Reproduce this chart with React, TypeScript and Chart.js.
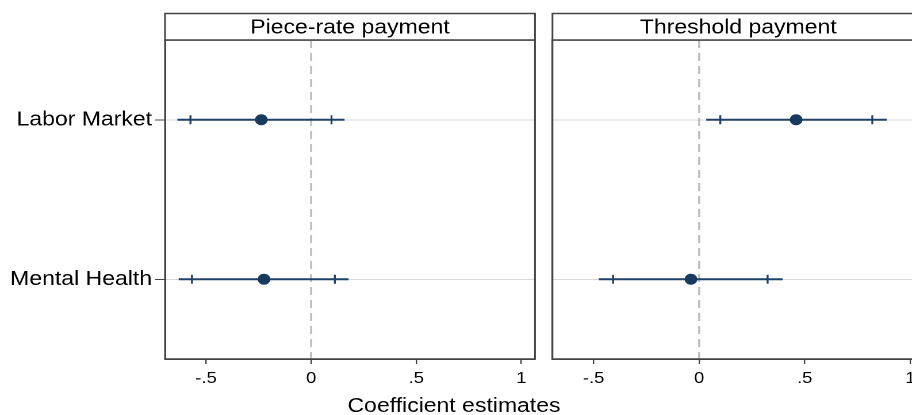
import React, { useEffect, useRef } from "react";
import { Chart, registerables } from "chart.js";

Chart.register(...registerables);

// ---- data ----
const categories = ["Labor Market", "Mental Health"];
const xTicks = [-0.5, 0, 0.5, 1];
const xTickLabels = ["-.5", "0", ".5", "1"];

const panelTitles = ["Piece-rate payment", "Threshold payment"];

const pieceEst = [-0.237, -0.224];
const pieceLo95 = [-0.636, -0.630];
const pieceHi95 = [0.159, 0.178];
const pieceLo90 = [-0.574, -0.567];
const pieceHi90 = [0.097, 0.113];

const threshEst = [0.459, -0.039];
const threshLo95 = [0.033, -0.476];
const threshHi95 = [0.888, 0.395];
const threshLo90 = [0.100, -0.408];
const threshHi90 = [0.820, 0.324];

const xAxisTitle = "Coefficient estimates";

// ---- style ----
const STRETCH = 1.15;
const FONT = "'Liberation Sans', Arial, Helvetica, sans-serif";
const LINE = "#1f4068";
const DOT = "#173a5e";
const FRAME = "#444444";

const framePlugin = {
  id: "frameHeader",
  afterDraw(chart: any) {
    const { ctx, chartArea } = chart;
    const title = chart.options.plugins.frameHeader?.title ?? "";
    const { left, right, top, bottom } = chartArea;
    ctx.save();
    ctx.strokeStyle = FRAME;
    ctx.lineWidth = 1.5;
    ctx.strokeRect(left, top, right - left, bottom - top);
    const hTop = 13.5;
    ctx.fillStyle = "#ffffff";
    ctx.fillRect(left, hTop, right - left, top - hTop);
    ctx.strokeRect(left, hTop, right - left, top - hTop);
    ctx.fillStyle = "#000";
    ctx.font = `20px ${FONT}`;
    ctx.textAlign = "center";
    ctx.textBaseline = "middle";
    ctx.fillText(title, (left + right) / 2, (hTop + top) / 2 + 1);
    ctx.restore();
  },
};

function buildConfig(
  title: string,
  est: number[],
  lo95: number[],
  hi95: number[],
  lo90: number[],
  hi90: number[],
  showLabels: boolean,
  yWidth: number,
  padRight: number
) {
  const datasets: any[] = [];
  datasets.push({
    data: [
      { x: 0, y: 0.5 },
      { x: 0, y: 2.5 },
    ],
    showLine: true,
    borderColor: "#bdbdbd",
    borderWidth: 1.8,
    borderDash: [8, 5],
    pointRadius: 0,
    order: 5,
  });
  categories.forEach((_, i) => {
    datasets.push({
      data: [
        { x: lo95[i], y: i + 1 },
        { x: hi95[i], y: i + 1 },
      ],
      showLine: true,
      borderColor: LINE,
      borderWidth: 2,
      pointRadius: 0,
      order: 3,
    });
  });
  datasets.push({
    data: categories.flatMap((_, i) => [
      { x: lo90[i], y: i + 1 },
      { x: hi90[i], y: i + 1 },
    ]),
    pointStyle: "line",
    rotation: 90,
    pointRadius: 4.5,
    borderColor: LINE,
    borderWidth: 1.7,
    order: 2,
  });
  datasets.push({
    data: categories.map((_, i) => ({ x: est[i], y: i + 1 })),
    pointRadius: 5.5,
    backgroundColor: DOT,
    borderColor: DOT,
    borderWidth: 0,
    order: 1,
  });

  return {
    type: "scatter",
    data: { datasets },
    plugins: [framePlugin],
    options: {
      animation: false,
      responsive: false,
      devicePixelRatio: 2,
      layout: { padding: { top: 40, right: padRight, left: 0, bottom: 0 } },
      plugins: {
        legend: { display: false },
        tooltip: { enabled: false },
        frameHeader: { title },
      },
      scales: {
        x: {
          type: "linear",
          min: -0.695,
          max: 1.065,
          afterBuildTicks: (s: any) => {
            s.ticks = xTicks.map((v) => ({ value: v }));
          },
          afterFit: (s: any) => {
            s.height = 56;
          },
          ticks: {
            callback: (v: any) => {
              const k = xTicks.findIndex((t) => Math.abs(t - v) < 1e-9);
              return k >= 0 ? xTickLabels[k] : "";
            },
            font: { family: FONT, size: 16 },
            color: "#000",
            padding: 5,
            maxRotation: 0,
            autoSkip: false,
          },
          grid: {
            drawOnChartArea: false,
            drawTicks: true,
            tickLength: 5,
            tickColor: FRAME,
            lineWidth: 1.2,
          },
          border: { display: true, color: FRAME, width: 1.5 },
        },
        y: {
          type: "linear",
          reverse: true,
          min: 0.5,
          max: 2.5,
          afterBuildTicks: (s: any) => {
            s.ticks = categories.map((_, i) => ({ value: i + 1 }));
          },
          afterFit: (s: any) => {
            s.width = yWidth;
          },
          ticks: {
            display: showLabels,
            callback: (v: any) => categories[Math.round(v) - 1] ?? "",
            font: { family: FONT, size: 20 },
            color: "#000",
            padding: 2.6,
            autoSkip: false,
          },
          grid: {
            color: "#d9d9d9",
            lineWidth: 1,
            drawTicks: showLabels,
            tickLength: 8.7,
            tickColor: FRAME,
          },
          border: { display: true, color: FRAME, width: 1.5 },
        },
      },
    },
  } as any;
}

export default function App() {
  const leftRef = useRef<HTMLCanvasElement>(null);
  const rightRef = useRef<HTMLCanvasElement>(null);

  useEffect(() => {
    const c1 = new Chart(
      leftRef.current as HTMLCanvasElement,
      buildConfig(panelTitles[0], pieceEst, pieceLo95, pieceHi95, pieceLo90, pieceHi90, true, 143.5, 472 - 465.2)
    );
    const c2 = new Chart(
      rightRef.current as HTMLCanvasElement,
      buildConfig(panelTitles[1], threshEst, threshLo95, threshHi95, threshLo90, threshHi90, false, 8.4, 8.5)
    );
    return () => {
      c1.destroy();
      c2.destroy();
    };
  }, []);

  return (
    <div
      style={{
        position: "fixed",
        left: 0,
        top: 0,
        width: 912,
        height: 415,
        overflow: "hidden",
        background: "#fff",
      }}
    >
      <div
        style={{
          position: "absolute",
          left: 0,
          top: 0,
          width: 812,
          height: 415,
          transform: `scaleX(${STRETCH})`,
          transformOrigin: "0 0",
        }}
      >
        <canvas
          ref={leftRef}
          width={472}
          height={415}
          style={{ position: "absolute", left: 0, top: 0, display: "block" }}
        />
        <canvas
          ref={rightRef}
          width={340}
          height={415}
          style={{ position: "absolute", left: 472, top: 0, display: "block" }}
        />
        <div
          style={{
            position: "absolute",
            left: 394.8,
            top: 394,
            transform: "translateX(-50%)",
            whiteSpace: "nowrap",
            fontFamily: FONT,
            fontSize: 20,
            lineHeight: "22px",
            color: "#000",
          }}
        >
          {xAxisTitle}
        </div>
      </div>
    </div>
  );
}
